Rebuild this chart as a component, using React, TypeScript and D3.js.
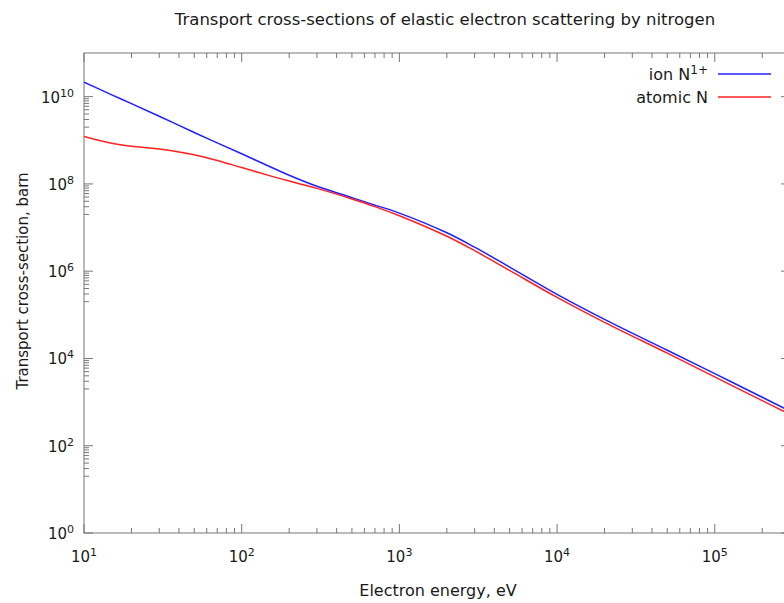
import React from "react"
import * as d3 from "d3"

// energies (eV) and transport cross-sections (barn)
const energies = [10, 15, 20, 30, 50, 70, 100, 150, 200, 300, 500, 700, 1000, 2000, 3000, 5000, 10000, 20000, 50000, 100000, 200000, 300000]
const ionN1 = [2.14e10, 1.1e10, 6.92e9, 3.55e9, 1.51e9, 8.71e8, 4.9e8, 2.51e8, 1.58e8, 8.81e7, 4.84e7, 3.27e7, 2.14e7, 7.59e6, 3.55e6, 1.245e6, 2.95e5, 7.87e4, 1.54e4, 4.49e3, 1.29e3, 621]
const atomicN = [1.23e9, 8.55e8, 7.29e8, 6.32e8, 4.66e8, 3.44e8, 2.37e8, 1.55e8, 1.16e8, 7.89e7, 4.52e7, 3.02e7, 1.86e7, 6.31e6, 2.95e6, 1.04e6, 2.51e5, 6.71e4, 1.32e4, 3.78e3, 1.08e3, 523]

const xTicks = [10, 100, 1000, 10000, 100000]
const yTicks = [1, 1e2, 1e4, 1e6, 1e8, 1e10]

const series = [
  { name: "ion N", sup: "1+", color: "#2020ff", values: ionN1 },
  { name: "atomic N", sup: "", color: "#ff2020", values: atomicN },
]

const W = 784
const H = 603
const left = 84
const right = 790
const top = 53
const bottom = 533
const font = "'DejaVu Sans', sans-serif"
const axisColor = "#777"
const textColor = "#1a1a1a"

export default function App() {
  const x = d3.scaleLog().domain([10, 3e5]).range([left, right])
  const y = d3.scaleLog().domain([1, 1e11]).range([bottom, top])

  const line = d3
    .line<number>()
    .x((_, i) => x(energies[i]))
    .y((d) => y(d))
    .curve(d3.curveCatmullRom.alpha(0.5))

  // minor ticks on x: every 2..9 within each decade
  const xMinor: number[] = []
  for (let e = 1; e <= 5; e++) {
    for (let m = 2; m <= 9; m++) {
      const v = m * Math.pow(10, e)
      if (v <= 3e5) xMinor.push(v)
    }
  }
  // minor ticks on y: 2..9 in the decade below every labelled power
  const yMinor: number[] = []
  for (let e = 1; e <= 10; e += 2) {
    for (let m = 2; m <= 9; m++) yMinor.push(m * Math.pow(10, e))
  }

  return (
    <svg width={W} height={H} style={{ position: "absolute", left: 0, top: 0, background: "#fff" }} fontFamily={font}>
      <defs>
        <clipPath id="plot">
          <rect x={left} y={top} width={right - left} height={bottom - top} />
        </clipPath>
      </defs>

      <text x={445} y={25} textAnchor="middle" fontSize={16.5} fill={textColor}>
        Transport cross-sections of elastic electron scattering by nitrogen
      </text>

      {/* ticks */}
      <g stroke={axisColor} strokeWidth={1}>
        {xTicks.map((t) => (
          <g key={"xt" + t}>
            <line x1={x(t)} x2={x(t)} y1={bottom} y2={bottom - 9} />
            <line x1={x(t)} x2={x(t)} y1={top} y2={top + 9} />
          </g>
        ))}
        {xMinor.map((t) => (
          <g key={"xm" + t}>
            <line x1={x(t)} x2={x(t)} y1={bottom} y2={bottom - 5} />
            <line x1={x(t)} x2={x(t)} y1={top} y2={top + 5} />
          </g>
        ))}
        {yTicks.map((t) => (
          <g key={"yt" + t}>
            <line x1={left} x2={left + 9} y1={y(t)} y2={y(t)} />
            <line x1={right} x2={right - 9} y1={y(t)} y2={y(t)} />
          </g>
        ))}
        {yMinor.map((t) => (
          <g key={"ym" + t}>
            <line x1={left} x2={left + 5} y1={y(t)} y2={y(t)} />
            <line x1={right} x2={right - 5} y1={y(t)} y2={y(t)} />
          </g>
        ))}
      </g>

      <rect x={left} y={top} width={right - left} height={bottom - top} fill="none" stroke={axisColor} strokeWidth={1} />

      {/* tick labels */}
      {xTicks.map((t) => (
        <text key={"xl" + t} x={x(t)} y={bottom + 29} textAnchor="middle" fontSize={15} fill={textColor}>
          10<tspan dy={-6} fontSize={11}>{Math.round(Math.log10(t))}</tspan>
        </text>
      ))}
      {yTicks.map((t) => (
        <text key={"yl" + t} x={left - 10} y={y(t) + 6} textAnchor="end" fontSize={15} fill={textColor}>
          10<tspan dy={-6} fontSize={11}>{Math.round(Math.log10(t))}</tspan>
        </text>
      ))}

      <text x={438} y={596} textAnchor="middle" fontSize={16} fill={textColor}>
        Electron energy, eV
      </text>
      <text transform={`translate(28,281) rotate(-90)`} textAnchor="middle" fontSize={15} fill={textColor}>
        Transport cross-section, barn
      </text>

      {/* curves */}
      <g clipPath="url(#plot)" fill="none" strokeWidth={1.5}>
        {series.map((s) => (
          <path key={s.name} d={line(s.values) || ""} stroke={s.color} />
        ))}
      </g>

      {/* legend */}
      {series.map((s, i) => (
        <g key={"lg" + s.name}>
          <text x={708} y={80 + i * 23} textAnchor="end" fontSize={16} fill={textColor}>
            {s.name}
            {s.sup && (
              <tspan dy={-6} fontSize={12}>
                {s.sup}
              </tspan>
            )}
          </text>
          <line x1={718} x2={771} y1={74 + i * 23} y2={74 + i * 23} stroke={s.color} strokeWidth={1.5} />
        </g>
      ))}
    </svg>
  )
}
